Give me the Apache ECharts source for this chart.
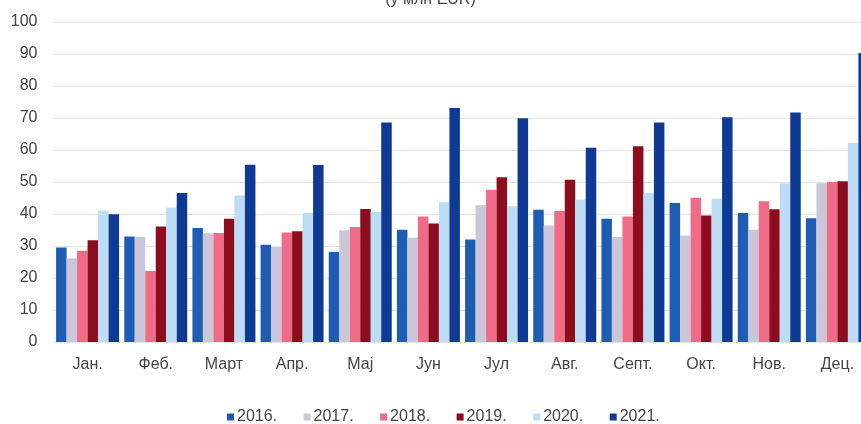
<!DOCTYPE html>
<html>
<head>
<meta charset="utf-8">
<script src="https://cdn.jsdelivr.net/npm/echarts@6/dist/echarts.min.js"></script>
<style>html,body{margin:0;padding:0;background:#fff}#c{width:861px;height:424px}</style>
</head>
<body>
<div id="c"></div>
<script>
const categories = ['Јан.', 'Феб.', 'Март', 'Апр.', 'Мај', 'Јун', 'Јул', 'Авг.', 'Септ.', 'Окт.', 'Нов.', 'Дец.'];
const years = ['2016.', '2017.', '2018.', '2019.', '2020.', '2021.'];
const v2016 = [29.5, 33.0, 35.6, 30.4, 28.1, 35.1, 32.0, 41.3, 38.5, 43.4, 40.3, 38.7];
const v2017 = [26.1, 32.8, 34.0, 29.7, 34.9, 32.6, 42.7, 36.4, 32.8, 33.3, 35.1, 49.6];
const v2018 = [28.5, 22.2, 34.1, 34.2, 35.9, 39.2, 47.6, 40.9, 39.2, 45.1, 44.0, 50.0];
const v2019 = [31.8, 36.1, 38.5, 34.6, 41.6, 37.0, 51.5, 50.7, 61.2, 39.5, 41.5, 50.2];
const v2020 = [41.1, 42.0, 45.8, 40.3, 40.6, 43.7, 42.4, 44.5, 46.5, 44.8, 49.6, 62.2];
const v2021 = [39.9, 46.6, 55.4, 55.3, 68.6, 73.1, 69.9, 60.7, 68.6, 70.2, 71.7, 90.3];
const yTicks = [0, 10, 20, 30, 40, 50, 60, 70, 80, 90, 100];
const titleText = '(у млн EUR)';

const colors = ['#1e5db3', '#cbc6d8', '#ef6b87', '#8c0e1e', '#bddcf6', '#0f3a93'];
const values = [v2016, v2017, v2018, v2019, v2020, v2021];

const chart = echarts.init(document.getElementById('c'));
chart.setOption({
  animation: false,
  textStyle: { fontFamily: 'Liberation Sans, Arial, sans-serif' },
  color: colors,
  title: {
    text: titleText, left: 'center', top: -13,
    textStyle: { fontSize: 16, fontWeight: 'normal', color: '#444' }
  },
  grid: { left: 53.5, right: -10.5, top: 22, bottom: 82, outerBoundsMode: 'none', containLabel: false },
  legend: {
    top: 404, left: 222,
    icon: 'rect', itemWidth: 7, itemHeight: 7, itemGap: 26.5,
    textStyle: { fontSize: 16, color: '#444', padding: [0, 0, 0, -2] },
    data: years
  },
  xAxis: {
    type: 'category', data: categories,
    axisLine: { show: true, lineStyle: { color: '#e6e6e6' } },
    axisTick: { show: false },
    axisLabel: { fontSize: 16, color: '#444', margin: 15 }
  },
  yAxis: {
    type: 'value', min: yTicks[0], max: yTicks[yTicks.length - 1], interval: 10,
    axisLine: { show: false }, axisTick: { show: false },
    axisLabel: { fontSize: 16, color: '#444', margin: 16 },
    splitLine: { lineStyle: { color: '#e4e4e4', width: 1 } }
  },
  series: years.map((y, i) => ({
    name: y, type: 'bar', data: values[i],
    barGap: '0%', barCategoryGap: '7.6%'
  }))
});
</script>
</body>
</html>
